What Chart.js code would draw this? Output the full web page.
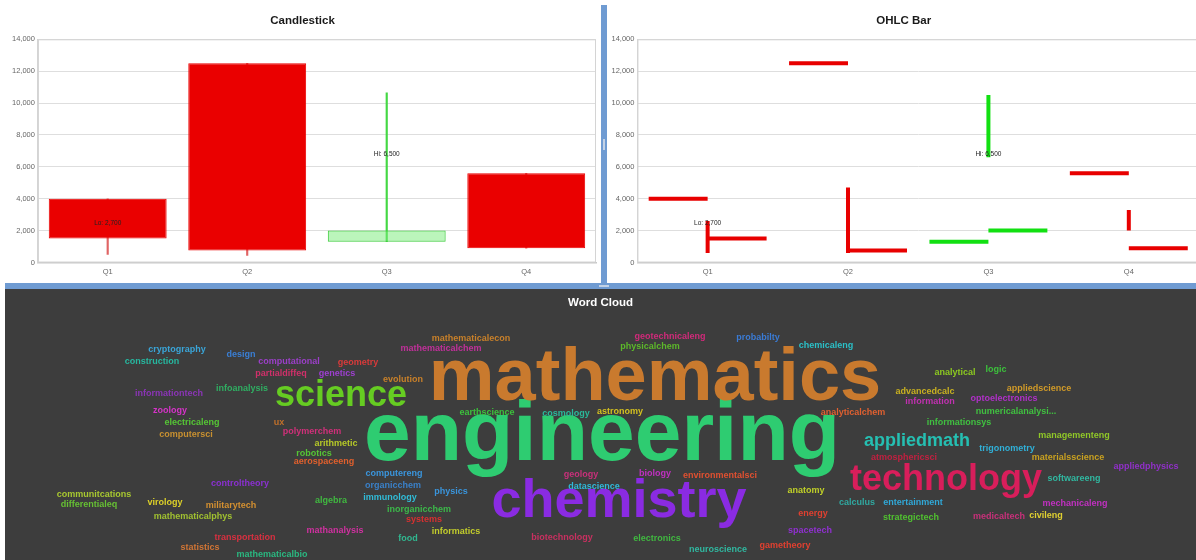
<!DOCTYPE html>
<html lang="en">

<head>
    <meta charset="UTF-8">
    <meta name="viewport" content="width=device-width, initial-scale=1.0">
    <title>Painel</title>
    <style>
        html, body {
            margin: 0;
            padding: 0;
            width: 1196px;
            height: 560px;
            overflow: hidden;
            background: #fff;
            font-family: "Liberation Sans", Arial, sans-serif;
        }

        .painel {
            position: absolute;
        }

        #painelVela { left: 0; top: 0; width: 601px; height: 283px; }
        #painelOhlc { left: 607px; top: 0; width: 592px; height: 283px; }

        .divisor { position: absolute; background: #6f9bd2; }
        #divV { left: 601px; top: 5px; width: 6px; height: 278px; }
        #divH { left: 5px; top: 283px; width: 1191px; height: 6px; }
        #pegaV { position: absolute; left: 603px; top: 139px; width: 2px; height: 11px; background: #c3d2e6; }
        #pegaH { position: absolute; left: 599px; top: 285px; width: 10px; height: 2px; background: #c3d2e6; }

        #painelNuvem { left: 5px; top: 289px; width: 1191px; height: 271px; background: #3d3d3d; }
        #tituloNuvem {
            position: absolute;
            left: 0;
            top: 7px;
            width: 100%;
            text-align: center;
            color: #fff;
            font-weight: bold;
            font-size: 11.5px;
            z-index: 2;
        }
    </style>
</head>

<body>
    <div class="painel" id="painelVela"><canvas id="chartVela"></canvas></div>
    <div class="painel" id="painelOhlc"><canvas id="chartOhlc"></canvas></div>
    <div class="divisor" id="divV"></div>
    <div class="divisor" id="divH"></div>
    <div id="pegaV"></div>
    <div id="pegaH"></div>
    <div class="painel" id="painelNuvem">
        <div id="tituloNuvem">Word Cloud</div>
        <canvas id="chartNuvem"></canvas>
    </div>
</body>

</html>
<script src="https://cdn.jsdelivr.net/npm/chart.js"></script>
<script>
    // dados
    const trimestres = ['Q1', 'Q2', 'Q3', 'Q4'];

    const velaAbertura = [4000, 12500, 1300, 5600];
    const velaFechamento = [1500, 750, 2000, 900];
    const velaMaxima = [4000, 12500, 10650, 5600];
    const velaMinima = [500, 450, 1300, 900];

    const ohlcAbertura = [4000, 12500, 1300, 5600];
    const ohlcMaxima = [2600, 4700, 10500, 3300];
    const ohlcMinima = [600, 600, 6600, 2000];
    const ohlcFechamento = [1500, 750, 2000, 900];

    const notaTrimestre = [0, 2];
    const notaValor = [2450, 6820];
    const notaTexto = ['Lo: 2,700', 'Hi: 6,500'];

    const palavras = ['engineering', 'mathematics', 'chemistry', 'science', 'technology', 'appliedmath',
        'cryptography', 'construction', 'design', 'computational', 'geometry', 'partialdiffeq', 'genetics',
        'evolution', 'informationtech', 'infoanalysis', 'zoology', 'electricaleng', 'ux', 'computersci',
        'polymerchem', 'arithmetic', 'robotics', 'aerospaceeng', 'controltheory', 'communitcations',
        'differentialeq', 'virology', 'militarytech', 'mathematicalphys', 'algebra', 'mathanalysis',
        'transportation', 'statistics', 'mathematicalbio', 'computereng', 'organicchem', 'immunology',
        'physics', 'inorganicchem', 'systems', 'informatics', 'food', 'mathematicalchem', 'mathematicalecon',
        'geotechnicaleng', 'physicalchem', 'probabilty', 'chemicaleng', 'earthscience', 'cosmology',
        'astronomy', 'analytical', 'logic', 'advancedcalc', 'appliedscience', 'information', 'optoelectronics',
        'analyticalchem', 'numericalanalysi...', 'informationsys', 'geology', 'biology', 'environmentalsci',
        'datascience', 'biotechnology', 'electronics', 'neuroscience', 'gametheory', 'anatomy', 'energy',
        'spacetech', 'trigonometry', 'managementeng', 'materialsscience', 'atmosphericsci', 'appliedphysics',
        'softwareeng', 'calculus', 'entertainment', 'mechanicaleng', 'strategictech', 'medicaltech', 'civileng'];

    const pesos = [84, 74, 54, 36, 36, 18,
        9, 9, 9, 9, 9, 9, 9, 9, 9, 9, 9, 9, 9, 9, 9, 9, 9, 9, 9, 9, 9, 9, 9, 9, 9, 9, 9, 9, 9, 9, 9, 9, 9,
        9, 9, 9, 9, 9, 9, 9, 9, 9, 9, 9, 9, 9, 9, 9, 9, 9, 9, 9, 9, 9, 9, 9, 9, 9, 9, 9, 9, 9, 9, 9, 9, 9,
        9, 9, 9, 9, 9, 9, 9, 9, 9, 9, 9, 9];

    // layout da nuvem (coordenadas do painel)
    const posicoes = [[597, 148], [650, 91], [614, 213], [336, 107], [941, 191], [912, 152],
        [172, 61], [147, 73], [236, 66], [284, 73], [353, 74], [276, 85], [332, 85],
        [398, 91], [164, 105], [237, 100], [165, 122], [187, 134], [274, 134], [181, 146],
        [307, 143], [331, 155], [309, 165], [319, 173], [235, 195], [89, 206],
        [84, 216], [160, 214], [226, 217], [188, 228], [326, 212], [330, 242],
        [240, 249], [195, 259], [267, 266], [389, 185], [388, 197], [385, 209],
        [446, 203], [414, 221], [419, 231], [451, 243], [403, 250], [436, 60], [466, 50],
        [665, 48], [645, 58], [753, 49], [821, 57], [482, 124], [561, 125],
        [615, 123], [950, 84], [991, 81], [920, 103], [1034, 100], [925, 113], [999, 110],
        [848, 124], [1011, 123], [954, 134], [576, 186], [650, 185], [715, 187],
        [589, 198], [557, 249], [652, 250], [713, 261], [780, 257], [801, 202], [808, 225],
        [805, 242], [1002, 160], [1069, 147], [1063, 169], [899, 169], [1141, 178],
        [1069, 190], [852, 214], [908, 214], [1070, 215], [906, 229], [994, 228], [1041, 227]];

    const coresPalavras = ['#2ecc71', '#c97a2e', '#8a2be2', '#66cc22', '#d81e5b', '#25bfb2',
        '#3aa5d8', '#26b8a0', '#3a7fd5', '#9b3fc8', '#d93a3a', '#d0306a', '#9d3fd0',
        '#c8802a', '#8a35b5', '#2fae62', '#d633c8', '#55c535', '#c0702a', '#c89030',
        '#d0307a', '#b5c828', '#55c535', '#e0602d', '#8a30d0', '#a8c830',
        '#66c033', '#dcd028', '#d49030', '#a0c030', '#40b840', '#d030a0',
        '#d83040', '#d07535', '#2ab880', '#3a95dc', '#3a80c8', '#30bcd8',
        '#3a95dc', '#3cb84a', '#d83030', '#c2cc2c', '#30b890', '#c0309a', '#c8802a',
        '#d02a7a', '#5cb82a', '#3a7bd5', '#2ac0c8', '#3cc03c', '#2ab89a',
        '#d4c020', '#8cc820', '#3cc03c', '#c8b020', '#d09a28', '#c030b0', '#b030c8',
        '#e06030', '#40c040', '#40c040', '#c8307a', '#c030c0', '#e05030',
        '#30b8d8', '#c83060', '#40b840', '#30b8a0', '#e04030', '#c0d028', '#e04030',
        '#9030d0', '#30b0d8', '#90c828', '#c8a020', '#c02040', '#9030c8',
        '#30b8a0', '#30a8a0', '#30a8d8', '#c030c0', '#50c030', '#c8307a', '#e0d030'];

    const fonte = '"Liberation Sans", Arial, sans-serif';
    Chart.defaults.font.family = fonte;
    Chart.defaults.animation = false;

    const moldura = {
        id: 'moldura',
        beforeDatasetsDraw(chart) {
            const ctx = chart.ctx;
            const a = chart.chartArea;
            ctx.save();
            ctx.strokeStyle = '#d4d4d4';
            ctx.lineWidth = 1;
            ctx.strokeRect(a.left + 0.5, a.top + 0.5, a.width - 1, a.height - 1);
            ctx.restore();
        }
    };

    const notas = {
        id: 'notas',
        afterDatasetsDraw(chart) {
            const ctx = chart.ctx;
            const x = chart.scales.x;
            const y = chart.scales.y;
            ctx.save();
            ctx.font = '6.5px ' + fonte;
            ctx.fillStyle = '#222';
            ctx.textAlign = 'center';
            ctx.textBaseline = 'middle';
            notaTrimestre.forEach((t, i) => {
                ctx.fillText(notaTexto[i], x.getPixelForValue(t), y.getPixelForValue(notaValor[i]));
            });
            ctx.restore();
        }
    };

    function eixoY() {
        return {
            min: 0,
            max: 14000,
            ticks: { stepSize: 2000, color: '#666', font: { size: 7.5 }, padding: 3 },
            grid: { color: '#dedede', drawTicks: false },
            border: { display: true, color: '#d4d4d4' }
        }
    }

    function titulo(texto) {
        return {
            display: true,
            text: texto,
            color: '#1a1a1a',
            font: { size: 11.5, weight: 'bold' },
            padding: { top: 14, bottom: 11.5 }
        }
    }

    // candlestick
    const baixa = velaAbertura.map((a, i) => velaFechamento[i] < a);

    new Chart(document.getElementById('chartVela'), {
        type: 'bar',
        data: {
            labels: trimestres,
            datasets: [
                {
                    label: 'Corpo',
                    data: velaAbertura.map((a, i) => [a, velaFechamento[i]]),
                    backgroundColor: baixa.map(b => b ? '#ea0000' : 'rgba(120,235,120,0.5)'),
                    borderColor: baixa.map(b => b ? '#ea0000' : '#3ccc3c'),
                    borderWidth: 1,
                    borderSkipped: false,
                    grouped: false,
                    barPercentage: 0.845,
                    categoryPercentage: 1,
                    order: 0
                },
                {
                    label: 'Pavio',
                    data: velaMinima.map((m, i) => [m, velaMaxima[i]]),
                    backgroundColor: baixa.map(b => b ? '#e06464' : '#44d844'),
                    borderWidth: 0,
                    grouped: false,
                    barThickness: 1.5,
                    order: 1
                }
            ]
        },
        options: {
            responsive: true,
            maintainAspectRatio: false,
            layout: { padding: { left: 9, right: 5, top: 0, bottom: 1.5 } },
            plugins: { legend: { display: false }, tooltip: { enabled: false }, title: titulo('Candlestick') },
            scales: {
                x: {
                    ticks: { color: '#666', font: { size: 7.5 }, padding: 5 },
                    grid: { display: false, drawTicks: false },
                    border: { color: '#c8c8c8', width: 1.5 }
                },
                y: eixoY()
            }
        },
        plugins: [moldura, notas]
    });

    // ohlc
    const perna = 0.42;
    const ohlcSets = trimestres.map((q, i) => ({
        label: q,
        data: [
            { x: i - perna, y: ohlcAbertura[i] }, { x: i, y: ohlcAbertura[i] }, { x: i, y: null },
            { x: i, y: ohlcMaxima[i] }, { x: i, y: ohlcMinima[i] }, { x: i, y: null },
            { x: i, y: ohlcFechamento[i] }, { x: i + perna, y: ohlcFechamento[i] }
        ],
        borderColor: ohlcFechamento[i] < ohlcAbertura[i] ? '#e80000' : '#12e012',
        borderWidth: 4,
        borderCapStyle: 'butt',
        pointRadius: 0,
        spanGaps: false,
        tension: 0
    }));

    new Chart(document.getElementById('chartOhlc'), {
        type: 'line',
        data: { datasets: ohlcSets },
        options: {
            responsive: true,
            maintainAspectRatio: false,
            layout: { padding: { left: 1.5, right: 0, top: 0, bottom: 1.5 } },
            plugins: { legend: { display: false }, tooltip: { enabled: false }, title: titulo('OHLC Bar') },
            scales: {
                x: {
                    type: 'linear',
                    min: -0.5,
                    max: 3.5,
                    afterBuildTicks: eixo => { eixo.ticks = trimestres.map((q, i) => ({ value: i })) },
                    ticks: { color: '#666', font: { size: 7.5 }, padding: 5, callback: v => trimestres[v] },
                    grid: { display: false, drawTicks: false },
                    border: { color: '#c8c8c8', width: 1.5 }
                },
                y: eixoY()
            }
        },
        plugins: [moldura, notas]
    });

    // nuvem de palavras
    const textoNuvem = {
        id: 'textoNuvem',
        afterDatasetsDraw(chart) {
            const ctx = chart.ctx;
            const pontos = chart.getDatasetMeta(0).data;
            ctx.save();
            ctx.textAlign = 'center';
            ctx.textBaseline = 'middle';
            pontos.forEach((p, i) => {
                ctx.font = 'bold ' + pesos[i] + 'px ' + fonte;
                ctx.fillStyle = coresPalavras[i];
                ctx.fillText(palavras[i], p.x, p.y);
            });
            ctx.restore();
        }
    };

    new Chart(document.getElementById('chartNuvem'), {
        type: 'scatter',
        data: {
            datasets: [{
                label: 'Palavras',
                data: posicoes.map(p => ({ x: p[0], y: p[1] })),
                pointRadius: 0
            }]
        },
        options: {
            responsive: true,
            maintainAspectRatio: false,
            events: [],
            layout: { padding: 0 },
            plugins: { legend: { display: false }, tooltip: { enabled: false } },
            scales: {
                x: { type: 'linear', display: false, min: 0, max: 1191 },
                y: { display: false, min: 0, max: 271, reverse: true }
            }
        },
        plugins: [textoNuvem]
    });
</script>
